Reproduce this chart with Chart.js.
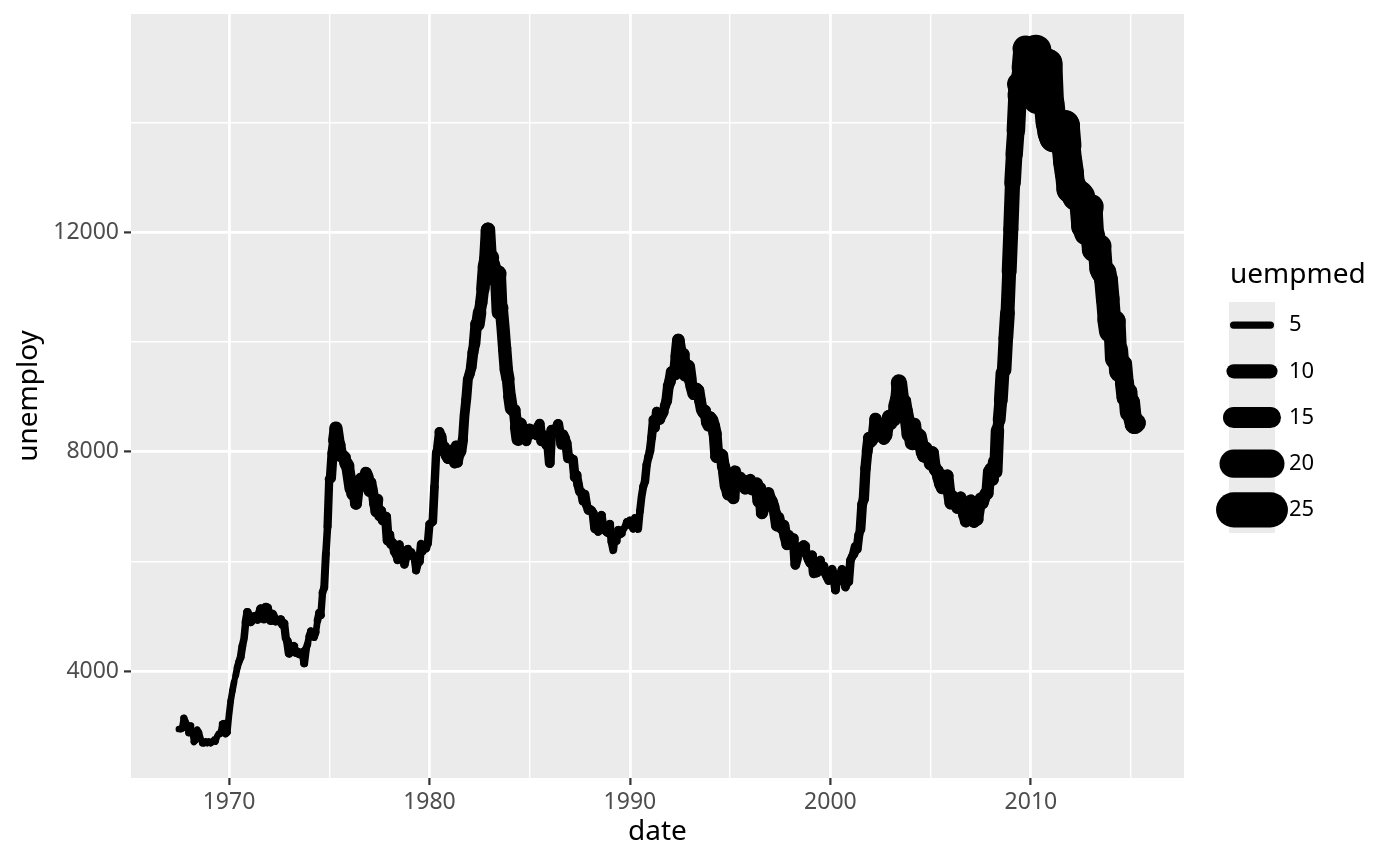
<!DOCTYPE html>
<html>
<head>
<meta charset="utf-8">
<script src="https://cdn.jsdelivr.net/npm/chart.js@4.4.1/dist/chart.umd.min.js"></script>
<style>
  html, body { margin: 0; padding: 0; background: #fff; }
  canvas { display: block; }
</style>
</head>
<body>
<canvas id="chart" width="1400" height="866"></canvas>
<script>
// monthly series, first month is July 1967
const startYear = 1967;
const startMonth = 7;

// unemploy (thousands), one row per year
const unemploy = [
  2944, 2945, 2958, 3143, 3066, 3018,
  2878, 3001, 2877, 2709, 2740, 2938, 2883, 2768, 2686, 2689, 2715, 2685,
  2718, 2692, 2712, 2758, 2713, 2816, 2868, 2856, 3040, 3049, 2856, 2884,
  3201, 3453, 3635, 3797, 3919, 4071, 4175, 4256, 4456, 4591, 4898, 5076,
  4986, 4903, 4987, 4959, 4996, 4949, 5035, 5134, 5042, 4954, 5161, 5154,
  5019, 4928, 5038, 4959, 4922, 4923, 4913, 4939, 4849, 4875, 4602, 4543,
  4326, 4452, 4394, 4459, 4329, 4363, 4305, 4305, 4350, 4144, 4396, 4489,
  4644, 4731, 4634, 4618, 4705, 4927, 5063, 5022, 5437, 5523, 6140, 6636,
  7501, 7520, 7978, 8210, 8433, 8220, 8127, 7928, 7923, 7897, 7794, 7744,
  7534, 7326, 7230, 7330, 7053, 7322, 7490, 7518, 7380, 7430, 7620, 7545,
  7280, 7443, 7307, 7059, 6911, 7134, 6829, 6925, 6751, 6763, 6815, 6386,
  6489, 6318, 6337, 6180, 6127, 6028, 6309, 6080, 6125, 5947, 6077, 6228,
  6109, 6173, 6109, 6069, 5840, 5959, 5996, 6320, 6190, 6296, 6238, 6325,
  6683, 6702, 6729, 7358, 7984, 8098, 8363, 8281, 8021, 8088, 7936, 7881,
  8025, 8034, 7999, 7795, 8112, 7802, 7947, 8009, 8219, 8669, 8952, 9329,
  9414, 9538, 9807, 9970, 10331, 10321, 10541, 10714, 10968, 11376, 11527, 12051,
  11534, 11545, 11408, 11268, 11154, 11246, 10548, 10623, 10282, 9887, 9499, 9331,
  9008, 8791, 8746, 8762, 8456, 8226, 8537, 8519, 8367, 8381, 8198, 8358,
  8423, 8321, 8339, 8395, 8302, 8460, 8513, 8196, 8248, 8298, 8128, 8138,
  7795, 8402, 8383, 8364, 8439, 8508, 8319, 8135, 8310, 8243, 8159, 7883,
  7892, 7865, 7862, 7542, 7574, 7398, 7268, 7261, 7102, 7227, 7035, 6936,
  6953, 6929, 6876, 6601, 6779, 6546, 6605, 6843, 6604, 6568, 6537, 6518,
  6682, 6359, 6205, 6468, 6375, 6577, 6495, 6511, 6590, 6630, 6725, 6667,
  6752, 6651, 6598, 6797, 6742, 6590, 6922, 7188, 7368, 7459, 7764, 7901,
  8015, 8265, 8586, 8439, 8736, 8692, 8586, 8666, 8722, 8842, 8931, 9198,
  9283, 9454, 9460, 9415, 9744, 10040, 9850, 9787, 9781, 9398, 9565, 9557,
  9325, 9183, 9056, 9110, 9149, 9121, 8930, 8763, 8714, 8750, 8542, 8477,
  8630, 8583, 8470, 8331, 7915, 7927, 7946, 7933, 7734, 7632, 7375, 7230,
  7375, 7187, 7153, 7645, 7430, 7427, 7527, 7484, 7478, 7328, 7426, 7423,
  7491, 7313, 7318, 7415, 7423, 7095, 7337, 6882, 6979, 7031, 7236, 7253,
  7158, 7102, 7000, 6873, 6655, 6799, 6655, 6608, 6656, 6454, 6308, 6476,
  6368, 6306, 6422, 5941, 6047, 6212, 6259, 6179, 6300, 6280, 6100, 6032,
  5976, 6111, 5783, 6004, 5796, 5951, 6025, 5838, 5915, 5778, 5716, 5653,
  5708, 5858, 5733, 5481, 5758, 5651, 5747, 5853, 5625, 5534, 5639, 5634,
  6023, 6089, 6141, 6271, 6226, 6484, 6583, 7042, 7142, 7694, 8003, 8258,
  8182, 8215, 8304, 8599, 8399, 8393, 8390, 8304, 8251, 8307, 8520, 8640,
  8520, 8618, 8588, 8842, 8957, 9266, 9011, 8896, 8921, 8732, 8576, 8317,
  8370, 8167, 8491, 8170, 8212, 8286, 8136, 7990, 7927, 8061, 7932, 7934,
  7784, 7980, 7737, 7672, 7651, 7524, 7406, 7345, 7553, 7453, 7566, 7279,
  7064, 7184, 7072, 7120, 6980, 7001, 7175, 7091, 6847, 6727, 6872, 6762,
  7116, 6927, 6731, 6850, 6766, 6979, 7149, 7067, 7170, 7237, 7240, 7645,
  7685, 7497, 7822, 7637, 8395, 8575, 8937, 9438, 9494, 10074, 10538, 11286,
  12058, 12898, 13426, 13853, 14499, 14707, 14601, 14814, 15009, 15352, 15219, 15098,
  15046, 15113, 15202, 15325, 14849, 14474, 14512, 14648, 14579, 14516, 15081, 14348,
  14013, 13820, 13737, 13957, 13855, 13962, 13763, 13818, 13948, 13594, 13302, 13093,
  12797, 12813, 12713, 12646, 12660, 12692, 12656, 12471, 12115, 12124, 12005, 12298,
  12471, 11950, 11689, 11760, 11654, 11751, 11335, 11279, 11270, 11136, 10787, 10404,
  10202, 10349, 10380, 9702, 9859, 9460, 9608, 9599, 9262, 8990, 9090, 8717,
  8903, 8610, 8504, 8526
];

// uempmed (weeks), same months
const uempmed = [
  4.5, 4.7, 4.6, 4.9, 4.7, 4.8,
  5.1, 4.5, 4.1, 4.6, 4.4, 4.4, 4.5, 4.2, 4.6, 4.8, 4.4, 4.4,
  4.4, 4.9, 4.0, 4.0, 4.2, 4.4, 4.4, 4.4, 4.7, 4.5, 4.8, 4.6,
  4.6, 4.5, 4.6, 4.1, 4.7, 4.9, 5.1, 5.4, 5.2, 5.2, 5.6, 5.9,
  6.2, 6.3, 6.4, 6.5, 6.7, 5.7, 6.2, 6.4, 5.8, 6.5, 6.4, 6.2,
  6.2, 6.6, 6.6, 6.7, 6.6, 5.4, 6.1, 6.0, 5.6, 5.7, 5.7, 6.1,
  5.7, 5.2, 5.5, 5.0, 4.9, 5.0, 5.2, 4.9, 5.4, 5.5, 5.1, 4.7,
  5.0, 5.1, 4.8, 5.0, 4.6, 5.3, 5.7, 5.0, 5.3, 5.5, 5.2, 5.7,
  6.3, 7.1, 7.2, 8.7, 9.4, 8.8, 8.6, 9.2, 9.2, 8.6, 9.5, 9.0,
  9.0, 8.2, 8.7, 8.2, 8.3, 7.8, 7.7, 7.9, 7.8, 7.7, 8.4, 8.0,
  7.5, 7.2, 7.2, 7.3, 7.9, 6.2, 7.1, 7.0, 6.7, 6.9, 7.0, 6.8,
  6.5, 6.7, 6.2, 6.1, 5.7, 6.0, 5.8, 5.8, 5.6, 5.9, 5.5, 5.6,
  5.9, 5.9, 5.9, 5.4, 5.6, 5.6, 5.9, 4.8, 5.5, 5.5, 5.3, 5.7,
  5.3, 5.8, 6.0, 5.8, 5.7, 6.4, 7.0, 7.5, 7.7, 7.5, 7.7, 7.5,
  7.4, 7.1, 7.1, 7.4, 6.9, 6.6, 7.1, 7.2, 6.8, 6.8, 6.9, 6.9,
  7.1, 7.5, 7.7, 8.1, 8.5, 9.5, 8.5, 8.7, 9.5, 9.7, 10.0, 10.2,
  11.1, 9.8, 10.4, 10.9, 12.3, 11.3, 10.1, 9.3, 9.3, 9.4, 9.3, 8.7,
  9.1, 8.3, 8.3, 8.2, 9.1, 7.5, 7.5, 7.3, 7.6, 7.2, 7.2, 7.3,
  6.8, 7.1, 7.1, 6.9, 6.9, 6.6, 6.9, 7.1, 6.9, 7.1, 7.0, 6.8,
  6.7, 6.9, 6.8, 6.7, 6.8, 7.0, 6.9, 7.1, 7.4, 7.0, 7.1, 7.1,
  6.9, 6.6, 6.6, 7.1, 6.6, 6.5, 6.5, 6.4, 6.0, 6.3, 6.2, 6.0,
  6.2, 6.3, 6.4, 5.9, 5.9, 5.8, 6.1, 5.9, 5.7, 5.6, 5.7, 5.9,
  5.6, 5.4, 5.4, 5.4, 5.3, 5.4, 5.6, 5.0, 4.9, 4.9, 4.8, 4.9,
  5.1, 5.3, 5.1, 4.8, 5.2, 5.2, 5.4, 5.4, 5.6, 5.8, 5.7, 5.9,
  6.0, 6.2, 6.7, 6.6, 6.4, 6.9, 7.0, 7.3, 6.8, 7.2, 7.5, 7.8,
  8.1, 8.2, 8.3, 8.5, 8.8, 8.7, 8.6, 8.8, 8.6, 9.0, 9.0, 9.3,
  8.6, 8.5, 8.5, 8.4, 8.1, 8.3, 8.2, 8.2, 8.3, 8.0, 8.3, 8.3,
  8.6, 9.2, 9.3, 9.1, 9.2, 9.3, 9.0, 8.9, 9.2, 10.0, 9.0, 8.7,
  8.0, 8.1, 8.3, 8.3, 9.1, 7.9, 8.5, 8.3, 7.9, 8.2, 8.0, 8.3,
  8.3, 7.8, 8.3, 8.6, 8.6, 8.3, 8.3, 8.4, 8.5, 8.3, 7.7, 7.8,
  7.8, 8.1, 7.9, 8.3, 8.0, 8.0, 8.3, 7.8, 8.2, 7.7, 7.6, 7.5,
  7.4, 7.0, 6.8, 6.7, 6.0, 6.9, 6.7, 6.8, 6.7, 5.8, 6.6, 6.8,
  6.9, 6.8, 6.8, 6.2, 6.5, 6.3, 5.8, 6.5, 6.0, 6.1, 6.2, 5.8,
  5.8, 6.1, 6.0, 6.1, 5.8, 5.7, 6.0, 6.3, 5.2, 6.1, 6.1, 6.0,
  5.8, 6.1, 6.6, 5.9, 6.3, 6.0, 6.8, 6.9, 7.2, 7.3, 7.7, 8.2,
  8.4, 8.3, 8.4, 8.9, 9.5, 11.0, 8.9, 9.0, 9.5, 9.6, 9.3, 9.6,
  9.6, 9.5, 9.7, 10.2, 9.9, 11.5, 10.3, 10.1, 10.2, 10.4, 10.3, 10.4,
  10.6, 10.2, 10.2, 9.5, 9.9, 11.0, 8.9, 9.2, 9.6, 9.5, 9.7, 9.5,
  9.4, 9.2, 9.3, 9.0, 9.1, 9.0, 8.8, 9.2, 8.4, 8.6, 8.5, 8.7,
  8.6, 9.1, 8.7, 8.4, 8.5, 7.3, 8.0, 8.4, 8.0, 7.9, 8.3, 7.5,
  8.3, 8.5, 9.1, 8.6, 8.2, 7.7, 8.7, 8.8, 8.7, 8.4, 8.6, 8.4,
  9.0, 8.7, 8.7, 9.4, 7.9, 9.0, 9.7, 9.7, 10.2, 10.4, 9.8, 10.5,
  10.7, 11.7, 12.3, 13.1, 14.2, 17.2, 16.0, 16.3, 17.8, 18.9, 19.8, 20.1,
  20.0, 19.9, 20.4, 22.1, 22.3, 25.2, 22.3, 21.0, 20.3, 21.2, 21.0, 21.9,
  21.5, 21.1, 21.5, 20.9, 21.6, 22.4, 22.0, 22.4, 22.0, 20.6, 20.8, 20.5,
  20.8, 19.7, 19.2, 19.1, 19.9, 20.1, 17.5, 18.5, 18.7, 19.6, 18.0, 18.0,
  16.2, 17.5, 17.7, 17.1, 17.1, 16.6, 16.2, 16.9, 16.7, 16.8, 16.6, 17.1,
  15.4, 15.9, 15.8, 14.6, 14.6, 14.0, 13.3, 13.2, 13.5, 13.4, 13.6, 12.7,
  12.6, 13.4, 13.9, 12.7
];

const xBreaks = [1970, 1980, 1990, 2000, 2010];
const xMinor = [1965, 1975, 1985, 1995, 2005, 2015];
const yBreaks = [4000, 8000, 12000];
const yMinor = [2000, 6000, 10000, 14000];
const legendBreaks = [5, 10, 15, 20, 25];

const FONT = "'Noto Sans', 'Open Sans', sans-serif";
Chart.defaults.font.family = FONT;

// points: decimal year for each month
const points = unemploy.map((v, i) => ({
  x: startYear + (startMonth - 1 + i) / 12,
  y: v
}));

// ggplot-like 5% expansion
function expand(lo, hi) {
  const d = (hi - lo) * 0.05;
  return [lo - d, hi + d];
}
const [xMin, xMax] = expand(points[0].x, points[points.length - 1].x);
const [yMin, yMax] = expand(Math.min(...unemploy), Math.max(...unemploy));

// linewidth scale, range 1..6 mm -> px at this size
const medMin = Math.min(...uempmed);
const medMax = Math.max(...uempmed);
const wMin = 5.9, wMax = 35.4;
function lineW(v) {
  return wMin + (v - medMin) / (medMax - medMin) * (wMax - wMin);
}

const xGrid = [...xBreaks, ...xMinor].filter(v => v >= xMin && v <= xMax).sort((a, b) => a - b);
const yGrid = [...yBreaks, ...yMinor].filter(v => v >= yMin && v <= yMax).sort((a, b) => a - b);

const panelBg = {
  id: 'panelBg',
  beforeDraw(chart) {
    const { ctx, chartArea: a } = chart;
    ctx.save();
    ctx.fillStyle = '#EBEBEB';
    ctx.fillRect(a.left, a.top, a.right - a.left, a.bottom - a.top);
    ctx.restore();
  }
};

// linewidth legend on the right
const widthLegend = {
  id: 'widthLegend',
  afterDraw(chart) {
    const ctx = chart.ctx;
    const keyX = 1229, keyY = 302, keyW = 46, keyH = 46.2;
    ctx.save();
    ctx.fillStyle = '#000';
    ctx.font = '28px ' + FONT;
    ctx.textBaseline = 'alphabetic';
    ctx.textAlign = 'left';
    ctx.fillText('uempmed', 1230, 283);

    ctx.fillStyle = '#EBEBEB';
    ctx.fillRect(keyX, keyY, keyW, keyH * legendBreaks.length);

    legendBreaks.forEach((b, i) => {
      const cy = keyY + keyH * (i + 0.5);
      ctx.strokeStyle = '#000';
      ctx.lineCap = 'round';
      ctx.lineWidth = lineW(b);
      ctx.beginPath();
      ctx.moveTo(keyX + keyW * 0.1, cy);
      ctx.lineTo(keyX + keyW * 0.9, cy);
      ctx.stroke();

      ctx.fillStyle = '#000';
      ctx.font = '22px ' + FONT;
      ctx.textBaseline = 'middle';
      ctx.fillText(String(b), 1289, cy);
    });
    ctx.restore();
  }
};

new Chart(document.getElementById('chart').getContext('2d'), {
  type: 'line',
  data: {
    datasets: [{
      label: 'unemploy',
      data: points,
      borderColor: '#000000',
      borderCapStyle: 'round',
      borderJoinStyle: 'round',
      borderWidth: lineW(uempmed[0]),
      pointRadius: 0,
      tension: 0,
      segment: {
        borderWidth: ctx => lineW(uempmed[ctx.p0DataIndex])
      }
    }]
  },
  options: {
    responsive: false,
    animation: false,
    devicePixelRatio: 1,
    layout: { padding: { left: 0, right: 216, top: 14, bottom: 0 } },
    plugins: {
      legend: { display: false },
      tooltip: { enabled: false }
    },
    scales: {
      x: {
        type: 'linear',
        min: xMin,
        max: xMax,
        afterBuildTicks: s => { s.ticks = xGrid.map(v => ({ value: v })); },
        afterFit: s => { s.height = 88; s.paddingLeft = 0; s.paddingRight = 0; },
        border: { display: false },
        grid: {
          color: '#FFFFFF',
          lineWidth: c => (c.tick && xBreaks.includes(c.tick.value)) ? 2.8 : 1.4,
          tickLength: 7,
          tickWidth: 2.2,
          tickColor: c => (c.tick && xBreaks.includes(c.tick.value)) ? '#333333' : 'rgba(0,0,0,0)'
        },
        ticks: {
          autoSkip: false,
          maxRotation: 0,
          padding: 4,
          color: '#4D4D4D',
          font: { size: 23 },
          callback: v => xBreaks.includes(v) ? String(v) : ''
        },
        title: {
          display: true,
          text: 'date',
          color: '#000000',
          font: { size: 28 },
          padding: { top: 17, bottom: 17 }
        }
      },
      y: {
        type: 'linear',
        min: yMin,
        max: yMax,
        afterBuildTicks: s => { s.ticks = yGrid.map(v => ({ value: v })); },
        afterFit: s => { s.width = 131; s.paddingTop = 0; s.paddingBottom = 0; },
        border: { display: false },
        grid: {
          color: '#FFFFFF',
          lineWidth: c => (c.tick && yBreaks.includes(c.tick.value)) ? 2.8 : 1.4,
          tickLength: 7,
          tickWidth: 2.2,
          tickColor: c => (c.tick && yBreaks.includes(c.tick.value)) ? '#333333' : 'rgba(0,0,0,0)'
        },
        ticks: {
          autoSkip: false,
          padding: 5,
          color: '#4D4D4D',
          font: { size: 23 },
          callback: v => yBreaks.includes(v) ? String(v) : ''
        },
        title: {
          display: true,
          text: 'unemploy',
          color: '#000000',
          font: { size: 28 },
          padding: { top: 12, bottom: 0 }
        }
      }
    }
  },
  plugins: [panelBg, widthLegend]
});
</script>
</body>
</html>
